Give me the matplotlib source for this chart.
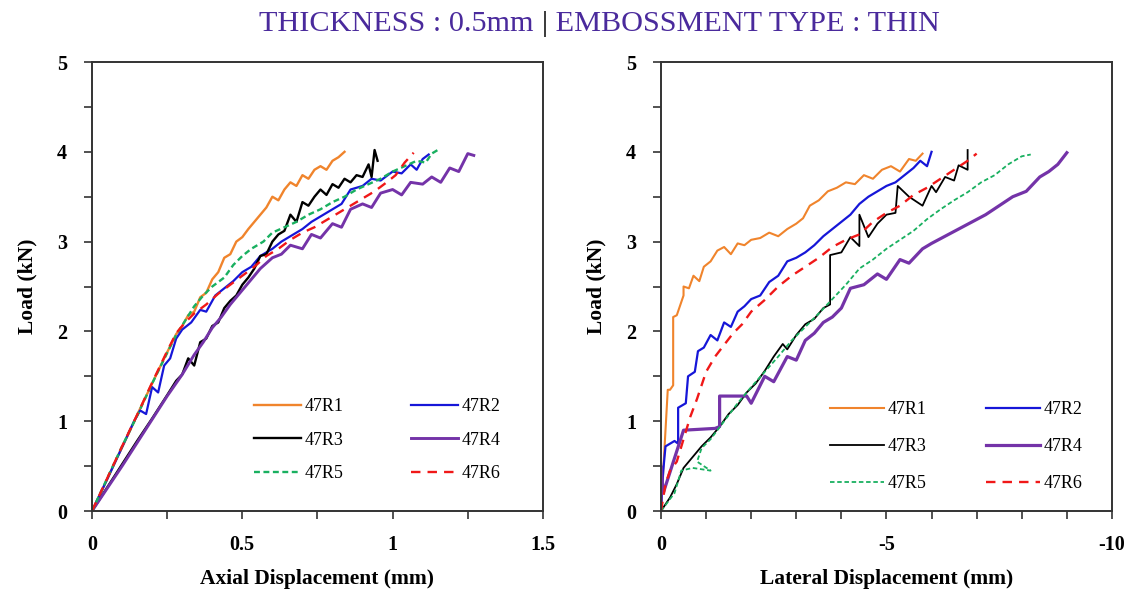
import matplotlib
matplotlib.use("Agg")
import matplotlib.pyplot as plt
from matplotlib.ticker import MultipleLocator
from matplotlib.offsetbox import TextArea, HPacker, AnchoredOffsetbox

# ---------------- data ----------------
labels = ["47R1", "47R2", "47R3", "47R4", "47R5", "47R6"]

# Axial displacement (mm) vs load (kN)
ax_R1_x = [0, 0.04, 0.08, 0.12, 0.16, 0.20, 0.24, 0.28, 0.30, 0.32, 0.34, 0.36, 0.38, 0.40, 0.42, 0.44, 0.46, 0.48,
           0.50, 0.52, 0.54, 0.56, 0.58, 0.60, 0.62, 0.64, 0.66, 0.68, 0.70, 0.72, 0.74, 0.76, 0.78, 0.80, 0.82, 0.84]
ax_R1_y = [0, 0.28, 0.57, 0.85, 1.14, 1.42, 1.70, 1.97, 2.06, 2.18, 2.22, 2.38, 2.43, 2.58, 2.66, 2.82, 2.86, 3.00,
           3.05, 3.14, 3.22, 3.30, 3.38, 3.50, 3.46, 3.58, 3.66, 3.62, 3.74, 3.70, 3.80, 3.84, 3.80, 3.90, 3.94, 4.00]

ax_R2_x = [0, 0.05, 0.10, 0.14, 0.16, 0.18, 0.20, 0.22, 0.24, 0.26, 0.28, 0.30, 0.33, 0.36, 0.38, 0.41, 0.44, 0.47,
           0.50, 0.53, 0.56, 0.60, 0.63, 0.66, 0.70, 0.73, 0.76, 0.80, 0.83, 0.86, 0.90, 0.93, 0.96, 1.00, 1.03, 1.06,
           1.08, 1.10, 1.12]
ax_R2_y = [0, 0.35, 0.71, 1.00, 1.12, 1.08, 1.38, 1.32, 1.62, 1.70, 1.92, 2.02, 2.10, 2.24, 2.22, 2.40, 2.48, 2.56,
           2.66, 2.72, 2.84, 2.92, 3.00, 3.06, 3.14, 3.22, 3.28, 3.36, 3.42, 3.58, 3.62, 3.70, 3.68, 3.78, 3.76, 3.86,
           3.80, 3.92, 3.97]

ax_R3_x = [0, 0.05, 0.10, 0.15, 0.20, 0.25, 0.28, 0.30, 0.32, 0.34, 0.36, 0.38, 0.40, 0.42, 0.44, 0.46, 0.48, 0.50,
           0.52, 0.54, 0.56, 0.58, 0.60, 0.62, 0.64, 0.66, 0.68, 0.70, 0.72, 0.74, 0.76, 0.78, 0.80, 0.82, 0.84, 0.86,
           0.88, 0.90, 0.92, 0.93, 0.94, 0.95]
ax_R3_y = [0, 0.26, 0.52, 0.78, 1.03, 1.29, 1.45, 1.52, 1.70, 1.62, 1.88, 1.92, 2.06, 2.10, 2.26, 2.34, 2.40, 2.52,
           2.60, 2.70, 2.84, 2.86, 3.00, 3.08, 3.12, 3.30, 3.22, 3.44, 3.40, 3.50, 3.58, 3.52, 3.64, 3.60, 3.70, 3.66,
           3.74, 3.72, 3.86, 3.72, 4.02, 3.90]

ax_R4_x = [0, 0.05, 0.10, 0.15, 0.20, 0.25, 0.30, 0.34, 0.37, 0.40, 0.43, 0.46, 0.50, 0.53, 0.56, 0.60, 0.63, 0.66,
           0.70, 0.73, 0.76, 0.80, 0.83, 0.86, 0.90, 0.93, 0.96, 1.00, 1.03, 1.06, 1.10, 1.13, 1.16, 1.19, 1.22, 1.25,
           1.27]
ax_R4_y = [0, 0.25, 0.50, 0.76, 1.02, 1.28, 1.52, 1.74, 1.88, 2.04, 2.16, 2.30, 2.46, 2.58, 2.70, 2.82, 2.86, 2.96,
           2.92, 3.08, 3.04, 3.20, 3.16, 3.36, 3.42, 3.38, 3.54, 3.58, 3.52, 3.66, 3.64, 3.72, 3.66, 3.82, 3.78, 3.98,
           3.96]

ax_R5_x = [0, 0.05, 0.10, 0.15, 0.20, 0.25, 0.28, 0.31, 0.34, 0.37, 0.40, 0.44, 0.47, 0.50, 0.53, 0.57, 0.60, 0.64,
           0.68, 0.72, 0.76, 0.80, 0.84, 0.88, 0.92, 0.96, 1.00, 1.04, 1.08, 1.11, 1.13, 1.15]
ax_R5_y = [0, 0.36, 0.72, 1.06, 1.42, 1.76, 1.96, 2.12, 2.28, 2.40, 2.50, 2.60, 2.74, 2.84, 2.92, 3.00, 3.10, 3.16,
           3.22, 3.30, 3.36, 3.44, 3.50, 3.58, 3.64, 3.70, 3.78, 3.84, 3.90, 3.88, 3.98, 4.02]

ax_R6_x = [0, 0.05, 0.10, 0.15, 0.20, 0.25, 0.28, 0.31, 0.34, 0.38, 0.42, 0.46, 0.50, 0.54, 0.58, 0.62, 0.66, 0.70,
           0.74, 0.78, 0.82, 0.86, 0.90, 0.94, 0.98, 1.01, 1.04, 1.07]
ax_R6_y = [0, 0.36, 0.72, 1.07, 1.43, 1.78, 1.98, 2.10, 2.20, 2.30, 2.42, 2.52, 2.62, 2.72, 2.84, 2.92, 3.02, 3.10,
           3.16, 3.24, 3.32, 3.40, 3.48, 3.56, 3.66, 3.74, 3.88, 3.99]

# Lateral displacement (mm) vs load (kN)
lat_R1_x = [0, -0.15, -0.2, -0.27, -0.27, -0.35, -0.5, -0.5, -0.62, -0.72, -0.85, -0.95, -1.1, -1.25, -1.4, -1.55,
            -1.7, -1.85, -2.0, -2.2, -2.4, -2.6, -2.8, -3.0, -3.15, -3.3, -3.5, -3.7, -3.9, -4.1, -4.3, -4.5, -4.7,
            -4.9, -5.1, -5.3, -5.5, -5.65, -5.8]
lat_R1_y = [0, 1.35, 1.35, 1.40, 2.16, 2.18, 2.40, 2.50, 2.48, 2.62, 2.56, 2.72, 2.78, 2.90, 2.94, 2.86,
            2.98, 2.96, 3.02, 3.04, 3.10, 3.06, 3.14, 3.20, 3.26, 3.40, 3.46, 3.56, 3.60, 3.66, 3.64, 3.74, 3.70,
            3.80, 3.84, 3.78, 3.92, 3.90, 3.98]

lat_R2_x = [0, -0.05, -0.1, -0.3, -0.38, -0.38, -0.55, -0.6, -0.75, -0.82, -0.95, -1.1, -1.25, -1.4, -1.55, -1.7,
            -1.85, -2.0, -2.2, -2.4, -2.6, -2.8, -3.0, -3.2, -3.4, -3.6, -3.8, -4.0, -4.2, -4.4, -4.6, -4.8, -5.0,
            -5.2, -5.4, -5.6, -5.75, -5.9, -6.0]
lat_R2_y = [0, 0.45, 0.72, 0.78, 0.75, 1.15, 1.20, 1.50, 1.55, 1.78, 1.82, 1.96, 1.90, 2.10, 2.05, 2.22,
            2.28, 2.36, 2.40, 2.55, 2.62, 2.78, 2.82, 2.88, 2.96, 3.06, 3.14, 3.22, 3.30, 3.42, 3.50, 3.56, 3.62,
            3.66, 3.74, 3.82, 3.90, 3.84, 4.00]

lat_R3_x = [0, -0.2, -0.35, -0.5, -0.7, -0.9, -1.1, -1.3, -1.5, -1.7, -1.9, -2.1, -2.3, -2.5, -2.7, -2.8, -3.0,
            -3.2, -3.4, -3.6, -3.75, -3.75, -4.0, -4.2, -4.4, -4.4, -4.6, -4.8, -5.0, -5.2, -5.25, -5.5, -5.8, -6.0,
            -6.1, -6.3, -6.5, -6.6, -6.8, -6.8]
lat_R3_y = [0, 0.15, 0.30, 0.48, 0.60, 0.72, 0.82, 0.94, 1.08, 1.18, 1.32, 1.42, 1.56, 1.72, 1.86, 1.80, 1.96,
            2.08, 2.14, 2.26, 2.30, 2.85, 2.88, 3.05, 2.95, 3.30, 3.05, 3.20, 3.30, 3.32, 3.62, 3.50, 3.40, 3.62,
            3.55, 3.72, 3.68, 3.85, 3.80, 4.02]

lat_R4_x = [0, 0, -0.05, -0.5, -1.2, -1.3, -1.3, -1.9, -2.0, -2.3, -2.5, -2.8, -3.0, -3.2, -3.4, -3.6, -3.8, -4.0,
            -4.2, -4.5, -4.8, -5.0, -5.3, -5.5, -5.8, -6.0, -6.3, -6.6, -6.9, -7.2, -7.5, -7.8, -8.1, -8.4, -8.6,
            -8.8, -9.0]
lat_R4_y = [0, 0.50, 0.20, 0.90, 0.92, 0.94, 1.28, 1.28, 1.20, 1.50, 1.44, 1.72, 1.68, 1.90, 1.98, 2.10, 2.16, 2.26,
            2.48, 2.52, 2.64, 2.58, 2.80, 2.76, 2.92, 2.98, 3.06, 3.14, 3.22, 3.30, 3.40, 3.50, 3.56, 3.72, 3.78,
            3.86, 3.99]

lat_R5_x = [0, -0.3, -0.45, -0.7, -1.1, -0.8, -0.9, -1.1, -1.4, -1.7, -2.0, -2.3, -2.6, -2.9, -3.2, -3.5, -3.8,
            -4.1, -4.4, -4.7, -5.0, -5.3, -5.6, -5.9, -6.2, -6.5, -6.8, -7.1, -7.4, -7.7, -8.0, -8.2]
lat_R5_y = [0, 0.20, 0.45, 0.48, 0.45, 0.55, 0.70, 0.80, 1.00, 1.20, 1.38, 1.55, 1.72, 1.90, 2.05, 2.20, 2.36,
            2.52, 2.70, 2.80, 2.92, 3.02, 3.12, 3.25, 3.36, 3.46, 3.55, 3.66, 3.74, 3.86, 3.95, 3.97]

lat_R6_x = [0, -0.1, -0.2, -0.35, -0.5, -0.65, -0.8, -1.0, -1.2, -1.4, -1.6, -1.8, -2.0, -2.3, -2.6, -2.9, -3.2,
            -3.5, -3.8, -4.1, -4.4, -4.7, -5.0, -5.3, -5.6, -5.9, -6.2, -6.5, -6.8, -7.0]
lat_R6_y = [0, 0.30, 0.45, 0.55, 0.80, 1.05, 1.25, 1.55, 1.72, 1.85, 1.98, 2.08, 2.22, 2.35, 2.50, 2.62, 2.72,
            2.82, 2.94, 3.02, 3.08, 3.22, 3.32, 3.40, 3.52, 3.60, 3.70, 3.80, 3.90, 3.98]

title_left = "THICKNESS : 0.5mm "
title_sep = "|"
title_right = " EMBOSSMENT TYPE : THIN"
ylabel = "Load (kN)"
xlabel_left = "Axial Displacement (mm)"
xlabel_right = "Lateral Displacement (mm)"
left_xticks = [0, 0.5, 1, 1.5]
left_xticklabels = ["0", "0.5", "1", "1.5"]
right_xticks = [0, -5, -10]
right_xticklabels = ["0", "-5", "-10"]

# ---------------- styles ----------------
colors = ["#F0842C", "#1616D8", "#000000", "#7433A8", "#19B060", "#F01818"]
styles = ["-", "-", "-", "-", (0, (2.5, 1.5)), (0, (4, 3))]
lw_left = [1.7, 1.6, 1.7, 2.1, 1.7, 1.7]
lw_right = [1.5, 1.6, 1.3, 2.3, 1.3, 1.7]

SERIF = ["Liberation Serif", "DejaVu Serif"]
plt.rcParams["font.family"] = SERIF

fig = plt.figure(figsize=(11.33, 5.94), dpi=100)
axL = fig.add_axes([0.0812, 0.1397, 0.398, 0.7559])
axR = fig.add_axes([0.5834, 0.1397, 0.398, 0.7559])

left_data = [(ax_R1_x, ax_R1_y), (ax_R2_x, ax_R2_y), (ax_R3_x, ax_R3_y),
             (ax_R4_x, ax_R4_y), (ax_R5_x, ax_R5_y), (ax_R6_x, ax_R6_y)]
right_data = [(lat_R1_x, lat_R1_y), (lat_R2_x, lat_R2_y), (lat_R3_x, lat_R3_y),
              (lat_R4_x, lat_R4_y), (lat_R5_x, lat_R5_y), (lat_R6_x, lat_R6_y)]


def draw(ax, data, lws, xlim, xticks, xticklabels, xmin, xlabel, leg_anchor, handlelen, colspace, labspace):
    handles = []
    for (x, y), c, ls, lw, lab in zip(data, colors, styles, lws, labels):
        h, = ax.plot(x, y, color=c, linestyle=ls, linewidth=lw, label=lab)
        handles.append(h)
    ax.set_xlim(*xlim)
    ax.set_ylim(0, 5)
    ax.set_xticks(xticks)
    ax.set_xticklabels(xticklabels)
    ax.xaxis.set_minor_locator(MultipleLocator(xmin))
    ax.yaxis.set_major_locator(MultipleLocator(1))
    ax.yaxis.set_minor_locator(MultipleLocator(0.5))
    ax.tick_params(which="both", direction="out", length=6, width=1.2, colors="#333333",
                   labelcolor="black", labelsize=14.5)
    ax.tick_params(axis="x", which="major", pad=11)
    ax.tick_params(axis="y", which="major", pad=12)
    for lbl in ax.get_xticklabels() + ax.get_yticklabels():
        lbl.set_fontweight("bold")
    for sp in ax.spines.values():
        sp.set_linewidth(1.4)
        sp.set_color("#333333")
    ax.set_xlabel(xlabel, fontsize=15.5, fontweight="bold", labelpad=10)
    ax.set_ylabel(ylabel, fontsize=15.5, fontweight="bold", labelpad=14)
    order = [0, 2, 4, 1, 3, 5]
    ax.legend([handles[i] for i in order], [labels[i] for i in order], ncol=2, frameon=False,
              loc="upper left", bbox_to_anchor=leg_anchor, fontsize=13,
              handlelength=handlelen, handletextpad=0.2, columnspacing=colspace,
              labelspacing=labspace, borderaxespad=0, borderpad=0)


draw(axL, left_data, lw_left, (0, 1.5), left_xticks, left_xticklabels, 0.25, xlabel_left,
     (0.36, 0.252), 2.6, 3.7, 0.93)
draw(axR, right_data, lw_right, (0, -10), right_xticks, right_xticklabels, 1, xlabel_right,
     (0.375, 0.245), 3.0, 3.25, 1.12)

# title with black separator
tc = "#4A2A9C"
fs_title = 21.8
ta1 = TextArea(title_left, textprops=dict(color=tc, fontsize=fs_title, family=SERIF))
ta2 = TextArea(title_sep, textprops=dict(color="black", fontsize=fs_title, family=SERIF))
ta3 = TextArea(title_right, textprops=dict(color=tc, fontsize=fs_title, family=SERIF))
pack = HPacker(children=[ta1, ta2, ta3], align="baseline", pad=0, sep=0)
anch = AnchoredOffsetbox(loc="center", child=pack, frameon=False,
                         bbox_to_anchor=(0.529, 0.96), bbox_transform=fig.transFigure, borderpad=0)
fig.add_artist(anch)

fig.savefig("out.png", dpi=100)
